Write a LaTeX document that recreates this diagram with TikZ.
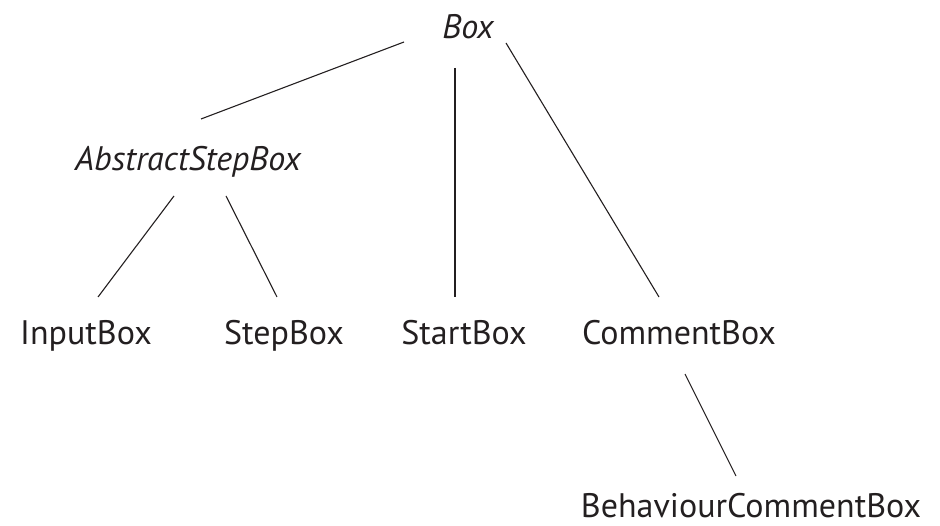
\documentclass[tikz,border=0pt]{standalone}
\usepackage{fontspec}
\setmainfont{PT Sans}
\definecolor{ink}{HTML}{231F20}
\begin{document}
\begin{tikzpicture}[x=1pt,y=-1pt,
  lbl/.style={anchor=base,inner sep=0pt,text=ink,font=\fontsize{34}{40}\selectfont},
  ilbl/.style={lbl,font=\fontsize{34}{40}\selectfont\itshape},
  edge/.style={draw=ink,line width=1.1pt}]
\useasboundingbox (0,0) rectangle (940,526);
\node[ilbl] (box) at (468,39) {Box};
\node[ilbl] (asb) at (188,171) {AbstractStepBox};
\node[lbl] (input) at (86,345) {InputBox};
\node[lbl] (step) at (284,345) {StepBox};
\node[lbl] (start) at (464,345) {StartBox};
\node[lbl] (comment) at (679,345) {CommentBox};
\node[lbl] (behav) at (751,517) {BehaviourCommentBox};
% connector end points
\coordinate (boxL) at (404,42);
\coordinate (asbT) at (201,119);
\coordinate (boxM) at (455,68);
\coordinate (startT) at (455,297);
\coordinate (boxR) at (506,43);
\coordinate (commentT) at (659,297);
\coordinate (asbL) at (174,196);
\coordinate (inputT) at (98,297);
\coordinate (asbR) at (226,196);
\coordinate (stepT) at (277,297);
\coordinate (commentB) at (685,374);
\coordinate (behavT) at (736,476);
\draw[edge] (boxL) -- (asbT);
\draw[edge] (boxM) -- (startT);
\draw[edge] (boxR) -- (commentT);
\draw[edge] (asbL) -- (inputT);
\draw[edge] (asbR) -- (stepT);
\draw[edge] (commentB) -- (behavT);
\end{tikzpicture}
\end{document}
